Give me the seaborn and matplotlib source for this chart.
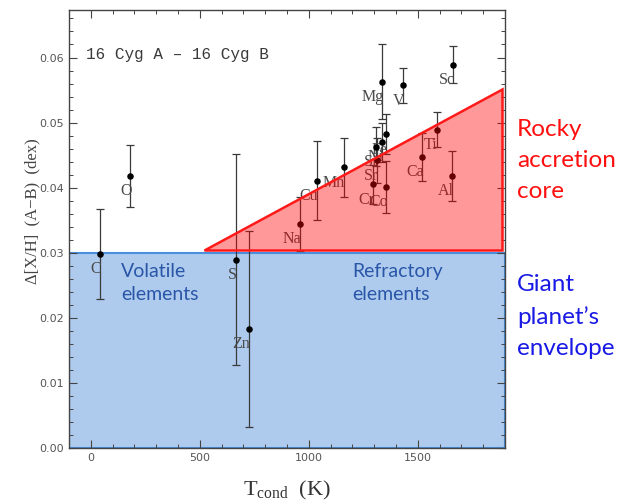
#! /usr/bin/env python3

import matplotlib
matplotlib.use('Agg')
import matplotlib.pyplot as plt
from matplotlib.patches import Polygon, Rectangle
from matplotlib.ticker import MultipleLocator
import pandas as pd
import seaborn as sns

elements = ['C', 'O', 'S', 'Zn', 'Na', 'Cu', 'Mn', 'Si', 'Sr', 'Cr', 'Co',
            'Ni', 'Fe', 'Mg', 'V', 'Sc', 'Ti', 'Ca', 'Al']
tcond = [41, 182, 665, 726, 959, 1038, 1161, 1310, 1313, 1295, 1356,
         1338, 1356, 1338, 1433, 1662, 1586, 1520, 1659]
dxh = [0.0298, 0.0418, 0.0289, 0.0183, 0.0344, 0.0411, 0.0431, 0.0463, 0.0442,
       0.0405, 0.0401, 0.0470, 0.0482, 0.0563, 0.0557, 0.0589, 0.0489, 0.0447,
       0.0418]
err = [0.0069, 0.0047, 0.0162, 0.0150, 0.0041, 0.0060, 0.0046, 0.0030, 0.0035,
       0.0030, 0.0040, 0.0030, 0.0031, 0.0058, 0.0027, 0.0028, 0.0027, 0.0037,
       0.0039]

# zonas
volatile_top = 0.030
rocky_x = [520, 1885, 1885]
rocky_y = [0.0305, 0.0305, 0.0552]

data = pd.DataFrame({'element': elements, 'tcond': tcond, 'dxh': dxh, 'err': err})

sns.set_style('ticks')
plt.rcParams['mathtext.fontset'] = 'custom'
plt.rcParams['mathtext.rm'] = 'Liberation Serif'
serif = ['Liberation Serif', 'DejaVu Serif']
sans = ['Lato', 'Open Sans', 'DejaVu Sans']

fig = plt.figure(figsize=(6.24, 5.03), dpi=100)
ax = fig.add_axes([69 / 624, 55 / 503, 436 / 624, 438 / 503])

ax.add_patch(Rectangle((-100, 0), 2000, volatile_top, facecolor='#aecbee',
                       edgecolor='#4a8fdc', lw=1.5, zorder=0))

ax.errorbar(data.tcond, data.dxh, yerr=data.err, fmt='none', ecolor='#3a3a3a',
            elinewidth=0.9, capsize=3, capthick=0.9, zorder=2)
sns.scatterplot(data=data, x='tcond', y='dxh', ax=ax, color='black', s=22,
                edgecolor='black', linewidth=0, zorder=3, legend=False)

for _, row in data.iterrows():
    ax.annotate(row.element, (row.tcond, row.dxh), xytext=(1, -11),
                textcoords='offset points', ha='right', va='center',
                fontsize=11.5, color='#4a4a4a', family=serif, zorder=2)

ax.add_patch(Polygon(list(zip(rocky_x, rocky_y)), closed=True,
                     facecolor=(1.0, 0.0, 0.0, 0.4), edgecolor='#ff1a1a',
                     lw=1.8, zorder=4))

ax.text(-20, 0.0604, '16 Cyg A \u2013 16 Cyg B', fontsize=11.5, color='#3a3a3a',
        family=['Liberation Mono', 'DejaVu Sans Mono'], va='center')
ax.text(140, 0.0284, 'Volatile\nelements', fontsize=14, color='#2a56a8',
        family=sans, va='top', linespacing=1.45)
ax.text(1200, 0.0284, 'Refractory\nelements', fontsize=14, color='#2a56a8',
        family=sans, va='top', linespacing=1.45)

fig.text(517 / 624, 1 - 119 / 503, 'Rocky\naccretion\ncore', fontsize=17.5,
         color='#ff1010', family=sans, va='top', linespacing=1.6)
fig.text(517 / 624, 1 - 274 / 503, 'Giant\nplanet\u2019s\nenvelope', fontsize=17.5,
         color='#1a1ae6', family=sans, va='top', linespacing=1.6)

ax.set_xlim(-100, 1900)
ax.set_ylim(0, 0.0673)
ax.xaxis.set_major_locator(MultipleLocator(500))
ax.xaxis.set_minor_locator(MultipleLocator(100))
ax.yaxis.set_major_locator(MultipleLocator(0.01))
ax.yaxis.set_minor_locator(MultipleLocator(0.002))
ax.yaxis.set_major_formatter(plt.FormatStrFormatter('%.2f'))
ax.tick_params(which='both', direction='in', top=True, right=True,
               color='#444444', labelsize=8, labelcolor='#555555')
ax.tick_params(which='major', length=6, width=0.8)
ax.tick_params(which='minor', length=3, width=0.7)
for s in ax.spines.values():
    s.set_color('#444444')
    s.set_linewidth(1.0)

ax.set_xlabel(r'$\mathrm{T_{cond}}$  (K)', fontsize=16, family=serif, color='#333333')
ax.set_ylabel('\u0394[X/H]  (A\u2212B)  (dex)', fontsize=12, family=serif,
              color='#444444')
ax.xaxis.set_label_coords(0.5, -0.07)
ax.yaxis.set_label_coords(-0.065, 0.54)

fig.savefig('out.png', dpi=100)
